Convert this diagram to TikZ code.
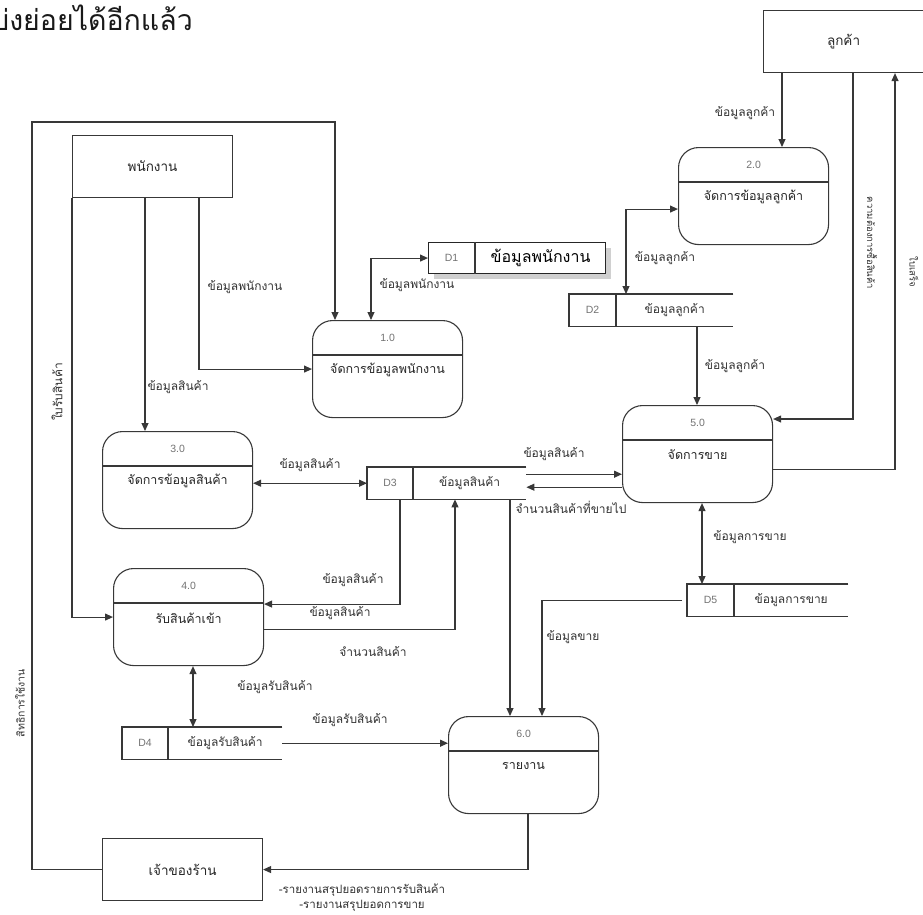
\documentclass[tikz,border=0pt]{standalone}
\usepackage{fontspec}
\setmainfont{Liberation Sans}
\newfontfamily\thai[Script=Thai]{Loma}
\usetikzlibrary{arrows.meta,calc,shadows}
\tikzset{
  line/.style={draw=black!78, line width=1.1pt},
  flow/.style={line, -{Triangle[length=8pt,width=7pt]}},
  bflow/.style={line, {Triangle[length=8pt,width=7pt]}-{Triangle[length=8pt,width=7pt]}},
  ent/.style={draw=black!78, line width=1.1pt, minimum width=160pt, minimum height=62pt, inner sep=0pt, anchor=north west},
  enttext/.style={font=\thai\fontsize{13.5}{15}\selectfont, text=black!85},
  proc/.style={draw=black!78, line width=1.1pt, rounded corners=20pt, minimum width=150pt, minimum height=97pt, anchor=north west, inner sep=0pt},
  ptext/.style={font=\thai\fontsize{12.5}{14}\selectfont, text=black!85, inner sep=1pt},
  lab/.style={font=\thai\fontsize{12}{14}\selectfont, text=black!80, inner sep=1pt},
  num/.style={font=\fontsize{10.5}{12}\selectfont, text=black!55, inner sep=1pt}
}
\newcommand\mkproc[5]{%
  \node[proc] (#1) at (#2,#3) {};
  \draw[line] ([yshift=-35pt]#1.north west) -- ([yshift=-35pt]#1.north east);
  \node[num] (#1n) at ([yshift=-18pt]#1.north) {#4};
  \node[ptext] (#1t) at ([yshift=-50pt]#1.north) {#5};
}
\newcommand\mkstore[7]{%
  \node[inner sep=0pt, minimum width=#4pt, minimum height=32pt, anchor=north west] (#1) at (#2,#3) {};
  \draw[line] (#1.north east) -- (#1.north west) -- (#1.south west) -- (#1.south east);
  \draw[line] ([xshift=#5pt]#1.north west) -- ([xshift=#5pt]#1.south west);
  \node[num] (#1i) at ($(#1.west)!.5!([xshift=#5pt]#1.west)$) {#6};
  \node[lab] (#1t) at ($([xshift=#5pt]#1.west)!.5!(#1.east)$) {#7};
}
\begin{document}
\begin{tikzpicture}[x=1pt,y=-1pt]
\useasboundingbox (0,0) rectangle (923,914);
\fill[white] (0,0) rectangle (923,914);
\clip (0,0) rectangle (923,914);

% heading (cut off at the left edge)
\node[anchor=base east, inner sep=0pt, font=\thai\fontsize{28.5}{32}\selectfont, text=black!90] (title) at (193,30) {แบ่งย่อยได้อีกแล้ว};

% external entities
\node[ent] (cust) at (763,10) {};
\node[enttext] (custt) at (cust.center) {ลูกค้า};
\node[ent] (emp) at (72,135) {};
\node[enttext] (empt) at (emp.center) {พนักงาน};
\node[ent] (owner) at (102,838) {};
\node[enttext] (ownert) at (owner.center) {เจ้าของร้าน};

% processes
\mkproc{p1}{312}{320}{1.0}{จัดการข้อมูลพนักงาน}
\mkproc{p2}{678}{147}{2.0}{จัดการข้อมูลลูกค้า}
\mkproc{p3}{102}{431}{3.0}{จัดการข้อมูลสินค้า}
\mkproc{p4}{113}{568}{4.0}{รับสินค้าเข้า}
\mkproc{p5}{622}{405}{5.0}{จัดการขาย}
\mkproc{p6}{448}{716}{6.0}{รายงาน}

% data store D1 (closed, shadowed)
\node[draw=black!85, line width=1.1pt, fill=white, inner sep=0pt, minimum width=177pt, minimum height=31pt, anchor=north west,
      drop shadow={shadow xshift=5pt, shadow yshift=-5pt, opacity=0.3, fill=black!60}] (d1) at (428,242) {};
\draw[line] ([xshift=47pt]d1.north west) -- ([xshift=47pt]d1.south west);
\node[num] (d1i) at ($(d1.west)!.5!([xshift=47pt]d1.west)$) {D1};
\node[font=\thai\fontsize{16}{18}\selectfont, text=black, inner sep=0pt] (d1t) at ($([xshift=47pt]d1.west)!.5!(d1.east)$) {ข้อมูลพนักงาน};

% open data stores
\mkstore{d2}{569}{294}{164}{47}{D2}{ข้อมูลลูกค้า}
\mkstore{d3}{367}{467}{159}{46}{D3}{ข้อมูลสินค้า}
\mkstore{d4}{122}{727}{160}{46}{D4}{ข้อมูลรับสินค้า}
\mkstore{d5}{687}{584}{161}{47}{D5}{ข้อมูลการขาย}

\coordinate (loopc) at (32,122);

% connectors
\draw[flow] ([xshift=19pt]cust.south west) -- ([xshift=19pt]cust.south west |- p2.north);
\draw[flow] ([xshift=90pt]cust.south west) |- ([yshift=-14pt]p5.north east);
\draw[flow] ([yshift=-15pt]p5.east) -| ([xshift=132pt]cust.south west);
\draw[bflow] ([yshift=-13pt]p2.west) -| ([xshift=57pt]d2.north west);
\draw[flow] ([xshift=128pt]d2.south west) -- ([xshift=128pt]d2.south west |- p5.north);
\draw[bflow] ([xshift=80pt]p5.south west) -- ([xshift=80pt]p5.south west |- d5.north);
\draw[flow] ([xshift=-5pt]d5.west) -| ([xshift=94pt]p6.north west);
\draw[flow] ([yshift=9pt]d3.east) -- ([yshift=9pt]d3.east -| p5.west);
\draw[flow] ([yshift=-4pt]d3.east -| p5.west) -- ([yshift=-4pt]d3.east);
\draw[bflow] (d3.west -| p3.east) -- (d3.west);
\draw[flow] ([xshift=33pt]d3.south west) |- ([yshift=13pt]p4.east);
\draw[flow] ([yshift=-12pt]p4.east) -| ([xshift=88pt]d3.south west);
\draw[flow] ([xshift=143pt]d3.south west) -- ([xshift=143pt]d3.south west |- p6.north);
\draw[flow] (d4.east) -- (d4.east -| p6.west);
\draw[bflow] ([xshift=80pt]p4.south west) -- ([xshift=80pt]p4.south west |- d4.north);
\draw[flow] ([xshift=80pt]p6.south west) |- (owner.east);
\draw[flow] (owner.west) -| (loopc) -| ([xshift=23pt]p1.north west);
\draw[flow] (emp.south west) |- (p4.west);
\draw[flow] ([xshift=73pt]emp.south west) -- ([xshift=73pt]emp.south west |- p3.north);
\draw[flow] ([xshift=127pt]emp.south west) |- (p1.west);
\draw[bflow] ([xshift=59pt]p1.north west) |- (d1.west);

% flow labels
\node[lab] (l1) at (745,113) {ข้อมูลลูกค้า};
\node[lab] (l2) at (665,258) {ข้อมูลลูกค้า};
\node[lab] (l3) at (735,366) {ข้อมูลลูกค้า};
\node[lab, rotate=-90, font=\thai\fontsize{9.5}{11}\selectfont] (l4) at (872,243) {ความต้องการซื้อสินค้า};
\node[lab, rotate=-90, font=\thai\fontsize{9.5}{11}\selectfont] (l5) at (914,272) {ใบเสร็จ};
\node[lab] (l6) at (245,287) {ข้อมูลพนักงาน};
\node[lab] (l7) at (417,285) {ข้อมูลพนักงาน};
\node[lab] (l8) at (178,387) {ข้อมูลสินค้า};
\node[lab, rotate=90] (l9) at (57,392) {ใบรับสินค้า};
\node[lab] (l10) at (310,465) {ข้อมูลสินค้า};
\node[lab] (l11) at (554,454) {ข้อมูลสินค้า};
\node[lab] (l12) at (571,507) {จำนวนสินค้าที่ขายไป};
\node[lab] (l13) at (750,537) {ข้อมูลการขาย};
\node[lab] (l14) at (353,580) {ข้อมูลสินค้า};
\node[lab] (l15) at (340,613) {ข้อมูลสินค้า};
\node[lab] (l16) at (373,652) {จำนวนสินค้า};
\node[lab] (l17) at (573,637) {ข้อมูลขาย};
\node[lab] (l18) at (275,687) {ข้อมูลรับสินค้า};
\node[lab] (l19) at (350,720) {ข้อมูลรับสินค้า};
\node[lab, rotate=90, font=\thai\fontsize{10.5}{12}\selectfont] (l20) at (20,703) {สิทธิการใช้งาน};
\node[lab, align=center, font=\thai\fontsize{11.5}{15}\selectfont, anchor=north] (l21) at (362,883) {-รายงานสรุปยอดรายการรับสินค้า\\-รายงานสรุปยอดการขาย};
\end{tikzpicture}
\end{document}
